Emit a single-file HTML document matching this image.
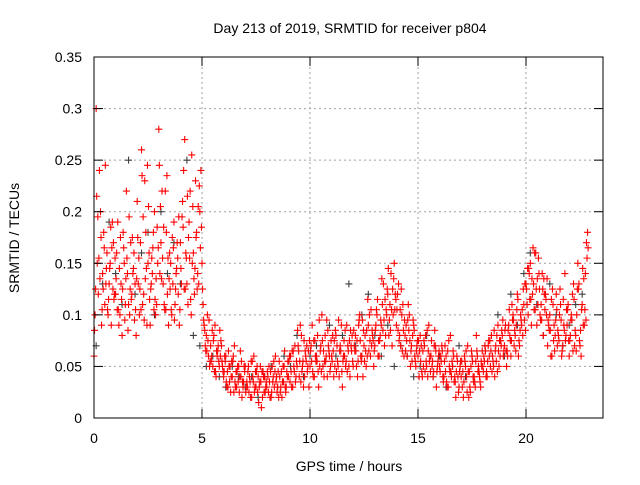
<!DOCTYPE html>
<html><head><meta charset="utf-8"><style>
body{margin:0;background:#fff}
svg text{font-family:"Liberation Sans",sans-serif;font-size:14px;fill:#000}
</style></head><body>
<svg id="chart" width="640" height="480" xmlns="http://www.w3.org/2000/svg">
<rect width="640" height="480" fill="#fff"/>
<g id="grid"></g>
<g id="gray"></g>
<g id="red"></g>
<rect x="94" y="57" width="509" height="361" fill="none" stroke="#000" stroke-width="1"/>
<g id="ticks"></g>
<text x="350" y="33" text-anchor="middle">Day 213 of 2019, SRMTID for receiver p804</text>
<text x="349" y="471" text-anchor="middle">GPS time / hours</text>
<text x="0" y="0" text-anchor="middle" transform="translate(19,238) rotate(-90)">SRMTID / TECUs</text>
</svg>
<script>
const xTicks=[0,5,10,15,20];
const yTicks=[0,0.05,0.1,0.15,0.2,0.25,0.3,0.35];
const yTickLabels=["0","0.05","0.1","0.15","0.2","0.25","0.3","0.35"];
const redA=[.06,.30,.12,.20,.14,.11,.16,.13,.09,.17,
.12,.19,.10,.08,.15,.22,.11,.17,.14,.13,
.21,.10,.26,.12,.18,.15,.09,.14,.20,.11,
.28,.17,.13,.22,.12,.16,.10,.19,.14,.12,
.17,.21,.27,.13,.19,.10,.16,.23,.14,.20,
.15,.09,.08,.06,.07,.05,.09,.06,.05,.07,
.04,.06,.03,.05,.04,.07,.03,.05,.04,.03,
.05,.03,.04,.02,.06,.03,.04,.05,.02,.04,
.03,.05,.02,.04,.06,.03,.04,.02,.05,.03,
.04,.06,.03,.07,.05,.04,.08,.03,.06,.05,
.05,.09,.04,.06,.03,.07,.05,.08,.04,.06,
.06,.04,.08,.05,.07,.03,.06,.09,.05,.07,
.05,.08,.04,.10,.06,.07,.05,.09,.06,.08,
.07,.10,.06,.09,.13,.08,.12,.11,.07,.15,
.09,.13,.07,.11,.08,.06,.10,.07,.09,.05,
.06,.08,.04,.07,.05,.09,.06,.04,.07,.05,
.05,.07,.04,.06,.03,.08,.05,.04,.06,.03,
.04,.02,.05,.07,.03,.06,.04,.08,.05,.03,
.05,.07,.04,.06,.08,.05,.07,.09,.06,.08,
.07,.05,.09,.06,.10,.08,.12,.07,.09,.11,
.13,.10,.15,.12,.16,.09,.14,.11,.08,.12,
.07,.10,.06,.09,.12,.08,.11,.07,.14,.09,
.06,.10,.13,.08,.15,.07,.11,.09,.17];
const redB=[.10,.15,.24,.09,.18,.13,.10,.15,.19,.12,
.16,.09,.13,.18,.11,.14,.10,.12,.16,.08,
.13,.17,.11,.23,.09,.16,.13,.18,.10,.15,
.14,.22,.11,.18,.09,.15,.13,.11,.17,.09,
.13,.24,.16,.11,.22,.15,.12,.18,.13,.24,
.11,.07,.10,.05,.06,.08,.04,.07,.06,.05,
.06,.03,.05,.04,.06,.03,.05,.04,.02,.05,
.03,.05,.02,.04,.03,.05,.03,.01,.04,.03,
.04,.02,.05,.03,.04,.02,.03,.05,.03,.04,
.06,.03,.05,.04,.07,.09,.05,.04,.07,.03,
.07,.04,.06,.08,.05,.10,.04,.06,.07,.05,
.08,.05,.07,.04,.09,.06,.05,.07,.04,.08,
.07,.05,.09,.06,.04,.08,.06,.10,.07,.05,
.09,.06,.08,.11,.07,.10,.08,.14,.10,.12,
.12,.08,.10,.06,.09,.11,.05,.08,.06,.07,
.04,.07,.05,.08,.04,.06,.05,.07,.03,.06,
.06,.04,.07,.03,.05,.04,.06,.02,.04,.05,
.03,.06,.04,.02,.05,.04,.03,.06,.04,.05,
.06,.04,.07,.05,.06,.04,.08,.05,.07,.06,
.09,.06,.08,.11,.07,.09,.06,.10,.08,.13,
.11,.14,.09,.13,.16,.11,.10,.14,.12,.10,
.09,.06,.11,.08,.07,.10,.06,.09,.08,.11,
.08,.12,.07,.10,.13,.06,.09,.14,.18];
const redC=[.085,.215,.155,.175,.125,.245,.105,.145,.165,.115,
.135,.105,.175,.125,.095,.155,.195,.115,.145,.105,
.175,.125,.235,.095,.145,.205,.125,.165,.115,.185,
.245,.135,.185,.105,.155,.125,.175,.095,.145,.195,
.145,.185,.125,.215,.155,.255,.135,.175,.205,.165,
.125,.085,.065,.095,.055,.075,.045,.065,.085,.055,
.045,.035,.065,.025,.055,.035,.045,.025,.055,.035,
.025,.045,.035,.055,.025,.045,.015,.035,.045,.025,
.045,.035,.025,.055,.035,.045,.025,.035,.065,.045,
.055,.045,.065,.035,.085,.055,.045,.075,.055,.065,
.065,.045,.075,.055,.095,.045,.065,.055,.085,.045,
.055,.075,.045,.095,.065,.055,.085,.045,.075,.065,
.085,.065,.055,.075,.095,.055,.085,.065,.105,.075,
.085,.115,.075,.135,.095,.105,.145,.085,.125,.105,
.105,.075,.125,.085,.065,.095,.075,.055,.085,.065,
.075,.055,.065,.045,.085,.055,.075,.045,.065,.055,
.045,.065,.055,.035,.075,.045,.065,.035,.055,.045,
.055,.035,.065,.045,.025,.055,.035,.065,.045,.055,
.045,.065,.055,.075,.045,.085,.055,.065,.075,.095,
.085,.065,.105,.075,.095,.065,.115,.085,.105,.095,
.125,.145,.115,.165,.105,.135,.125,.095,.135,.115,
.095,.085,.125,.065,.105,.075,.095,.115,.075,.105,
.075,.095,.115,.065,.125,.085,.145,.105,.155];
const redD=[.125,.195,.135,.105,.165,.145,.115,.185,.125,.155,
.105,.145,.115,.165,.135,.085,.125,.175,.095,.135,
.155,.105,.195,.135,.245,.115,.155,.105,.135,.165,
.205,.155,.105,.235,.135,.105,.165,.125,.155,.105,
.195,.125,.155,.175,.115,.205,.145,.125,.225,.185,
.095,.065,.075,.055,.085,.045,.065,.055,.075,.045,
.055,.045,.035,.055,.025,.045,.035,.065,.035,.045,
.035,.025,.055,.035,.045,.025,.035,.045,.025,.035,
.025,.045,.035,.045,.025,.055,.045,.035,.025,.055,
.035,.065,.045,.055,.065,.035,.055,.065,.045,.075,
.055,.075,.055,.045,.065,.075,.055,.095,.065,.075,
.065,.085,.055,.065,.045,.075,.055,.065,.085,.055,
.065,.075,.095,.055,.085,.065,.115,.075,.085,.065,
.105,.075,.095,.085,.115,.125,.095,.105,.135,.115,
.085,.105,.065,.095,.075,.085,.065,.095,.055,.075,
.065,.045,.075,.055,.065,.045,.055,.085,.045,.065,
.055,.035,.045,.065,.045,.055,.035,.045,.025,.055,
.045,.055,.025,.045,.065,.035,.055,.045,.035,.065,
.055,.045,.075,.065,.055,.065,.045,.075,.085,.065,
.065,.085,.075,.095,.085,.105,.075,.095,.125,.085,
.145,.115,.135,.105,.125,.155,.095,.125,.105,.135,
.085,.115,.075,.095,.085,.125,.065,.085,.105,.075,
.095,.065,.085,.125,.075,.105,.135,.095,.165];
const grayVals=[.07,.13,.19,.14,.11,.25,.12,.16,.18,.10,.20,.14,.17,.13,.25,.08,.07,.05,.06,.04,.03,.05,.04,.03,.04,.02,.04,.05,.03,.06,.05,.08,.04,.06,.07,.05,.09,.06,.08,.13,.07,.10,.12,.08,.06,.09,.05,.07,.06,.04,.05,.08,.04,.06,.03,.05,.07,.04,.06,.05,.07,.08,.10,.06,.12,.09,.14,.16,.11,.08,.13,.10,.07,.09,.11,.12];
const NS="http://www.w3.org/2000/svg";
const X=h=>94+h*21.6;
const Y=v=>418-v*(361/0.35);
function mk(tag,attrs,parent){const e=document.createElementNS(NS,tag);for(const k in attrs)e.setAttribute(k,attrs[k]);parent.appendChild(e);return e;}
const grid=document.getElementById('grid'),ticks=document.getElementById('ticks');
yTicks.forEach((v,i)=>{
  const y=Y(v);
  if(i>0&&i<yTicks.length-1){const g=mk('line',{x1:94,x2:603,y1:y,y2:y,stroke:'#a0a0a0','stroke-dasharray':'2,3'},grid);
  
  }
  mk('line',{x1:94,x2:103,y1:y,y2:y,stroke:'#000'},ticks);
  mk('line',{x1:594,x2:603,y1:y,y2:y,stroke:'#000'},ticks);
  const t=mk('text',{x:82,y:y+5,'text-anchor':'end'},ticks);t.textContent=yTickLabels[i];
  
  
});
xTicks.forEach(h=>{
  const x=X(h);
  if(h>0){const g=mk('line',{x1:x,x2:x,y1:57,y2:418,stroke:'#a0a0a0','stroke-dasharray':'2,3'},grid);
  
  }
  mk('line',{x1:x,x2:x,y1:418,y2:409,stroke:'#000'},ticks);
  mk('line',{x1:x,x2:x,y1:57,y2:66,stroke:'#000'},ticks);
  const t=mk('text',{x:x,y:443,'text-anchor':'middle'},ticks);t.textContent=String(h);
  
  
});
function plus(g,h,v,c){const x=X(h),y=Y(v);
  const p=mk('path',{d:`M${x-3.5} ${y}H${x+3.5}M${x} ${y-3.5}V${y+3.5}`,stroke:c,'stroke-width':1.1,fill:'none'},g);
  
  }
const gg=document.getElementById('gray'),rg=document.getElementById('red');
grayVals.forEach((v,i)=>plus(gg,i*0.3+0.1,v,'#404040'));
redA.forEach((v,i)=>plus(rg,i*0.1,v,'#ff0000'));
redB.forEach((v,i)=>plus(rg,i*0.1+0.05,v,'#ff0000'));
redC.forEach((v,i)=>plus(rg,i*0.1+0.025,v,'#ff0000'));
redD.forEach((v,i)=>plus(rg,i*0.1+0.075,v,'#ff0000'));
</script>
</body></html>
